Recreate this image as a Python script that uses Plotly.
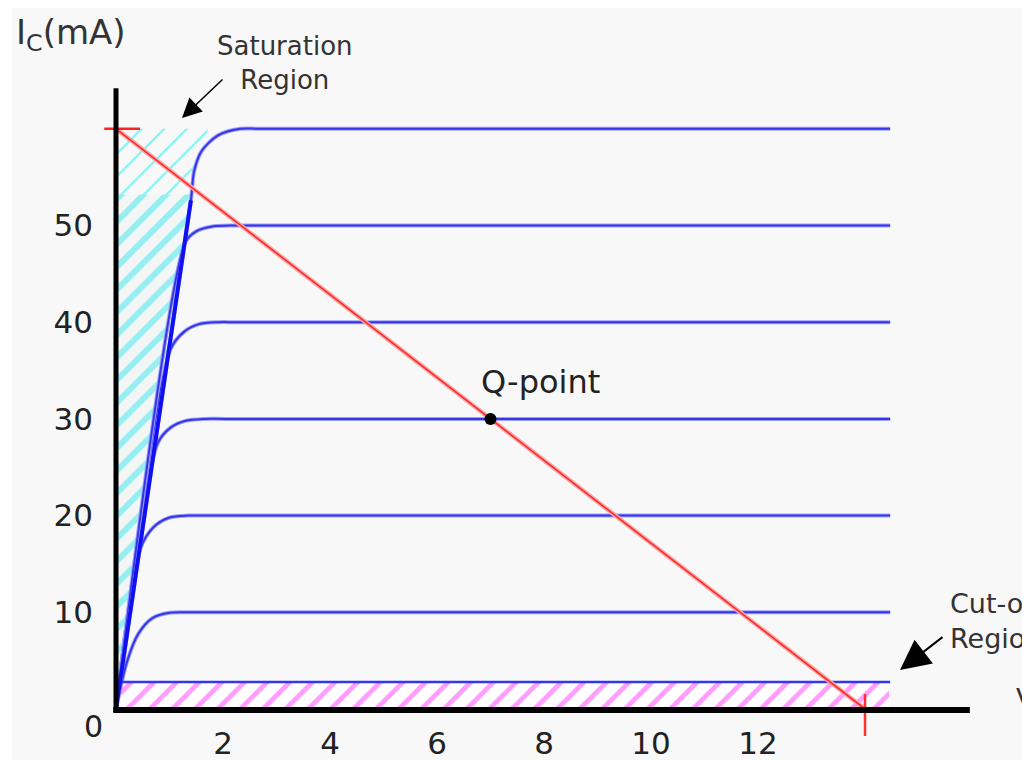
import plotly.graph_objects as go

# ---------------- data ----------------
x_ticks = [2, 4, 6, 8, 10, 12]
y_ticks = [10, 20, 30, 40, 50]

# characteristic curves (VCE in V, IC in mA)
vce_10 = [0, 0.2, 0.42, 0.68, 1.0, 1.4, 14.47]
ic_10 = [0, 4.8, 7.8, 9.4, 9.95, 10, 10]
vce_20 = [0, 0.45, 0.7, 1.0, 1.35, 1.75, 14.47]
ic_20 = [0, 16.5, 18.8, 19.8, 20, 20, 20]
vce_30 = [0, 0.78, 1.02, 1.3, 1.65, 2.05, 14.47]
ic_30 = [0, 27.5, 29.1, 29.8, 30, 30, 30]
vce_40 = [0, 1.02, 1.27, 1.55, 1.9, 2.3, 14.47]
ic_40 = [0, 37.2, 39.0, 39.8, 40, 40, 40]
vce_50 = [0, 1.3, 1.5, 1.8, 2.2, 2.6, 14.47]
ic_50 = [0, 48.3, 49.4, 49.9, 50, 50, 50]
vce_60 = [0, 1.4, 1.46, 1.6, 1.9, 2.32, 2.7, 14.47]
ic_60 = [0, 52.6, 55.6, 57.7, 59.3, 60, 60, 60]

# cut-off boundary
cutoff_v = [0, 14.47]
cutoff_i = [2.8, 2.8]

# saturation boundary (thick line)
sat_v = [0, 1.4]
sat_i = [0, 52.6]

# hatched regions
sat_low_v = [0, 0, 1.38, 0]
sat_low_i = [0, 53.2, 53.2, 0]
sat_up_v = [0, 0, 1.72, 1.33, 0]
sat_up_i = [53.2, 60, 60, 53.2, 53.2]
cut_v = [0, 14.45, 14.45, 0, 0]
cut_i = [0, 0, 2.8, 2.8, 0]

# load line and Q-point
load_v = [0, 14]
load_i = [60, 0]
q_v = [7]
q_i = [30]
top_tick_v = [-0.22, 0.45]
top_tick_i = [60, 60]
bot_tick_v = [14]
bot_tick_i = [-0.62]

# ---------------- layout geometry ----------------
# the page body adds an 8 px margin, so every reference pixel is shifted by OFF
OFF = 8
W, H = 1030, 760
PLOT_L, PLOT_R, PLOT_T, PLOT_B = 100, 1000, 80, 722   # plot box in reference pixels
ML = PLOT_L - OFF
MR = W - (PLOT_R - OFF)
MT = PLOT_T - OFF
MB = H - (PLOT_B - OFF)
PW, PH = W - ML - MR, H - MT - MB
X0_REF, Y0_REF = 116, 709   # reference pixel of VCE = 0 / IC = 0
SX, SY = 53.5, 9.67         # pixels per volt / per mA


def px(x):
    """reference-picture pixel -> paper fraction"""
    return (x - PLOT_L) / PW


def py(y):
    return (PLOT_B - y) / PH


FONT = "DejaVu Sans"
BLUE = "#3535ee"

fig = go.Figure()

# hatched regions
fig.add_trace(go.Scatter(x=cut_v, y=cut_i, mode="lines", fill="toself",
                         line=dict(width=0), fillcolor="rgba(0,0,0,0)",
                         fillpattern=dict(shape="/", fgcolor="#ff3cff", bgcolor="#ffffff",
                                          size=16, solidity=0.3),
                         hoverinfo="skip", showlegend=False))
fig.add_trace(go.Scatter(x=sat_low_v, y=sat_low_i, mode="lines", fill="toself",
                         line=dict(width=0), fillcolor="rgba(0,0,0,0)",
                         fillpattern=dict(shape="/", fgcolor="#35e6ec", bgcolor="#f4f6f6",
                                          size=16, solidity=0.38),
                         hoverinfo="skip", showlegend=False))
fig.add_trace(go.Scatter(x=sat_up_v, y=sat_up_i, mode="lines", fill="toself",
                         line=dict(width=0), fillcolor="rgba(0,0,0,0)",
                         fillpattern=dict(shape="/", fgcolor="#00f4f4", bgcolor="rgba(0,0,0,0)",
                                          size=16, solidity=0.14),
                         hoverinfo="skip", showlegend=False))

# characteristic curves
for vv, ii in [(vce_10, ic_10), (vce_20, ic_20), (vce_30, ic_30),
               (vce_40, ic_40), (vce_50, ic_50), (vce_60, ic_60)]:
    fig.add_trace(go.Scatter(x=vv, y=ii, mode="lines",
                             line=dict(color="#a0a0f6", width=4, shape="spline", smoothing=0.8),
                             hoverinfo="skip", showlegend=False))
    fig.add_trace(go.Scatter(x=vv, y=ii, mode="lines",
                             line=dict(color=BLUE, width=2, shape="spline", smoothing=0.8),
                             hoverinfo="skip", showlegend=False))

fig.add_trace(go.Scatter(x=cutoff_v, y=cutoff_i, mode="lines",
                         line=dict(color=BLUE, width=2.5),
                         hoverinfo="skip", showlegend=False))
fig.add_trace(go.Scatter(x=sat_v, y=sat_i, mode="lines",
                         line=dict(color="#1010f0", width=4),
                         hoverinfo="skip", showlegend=False))

# load line
fig.add_trace(go.Scatter(x=load_v, y=load_i, mode="lines",
                         line=dict(color="#f5a8a8", width=4.5),
                         hoverinfo="skip", showlegend=False))
fig.add_trace(go.Scatter(x=load_v, y=load_i, mode="lines",
                         line=dict(color="#ff2a2a", width=1.6),
                         hoverinfo="skip", showlegend=False))
fig.add_trace(go.Scatter(x=top_tick_v, y=top_tick_i, mode="lines",
                         line=dict(color="#ff2020", width=2.5),
                         hoverinfo="skip", showlegend=False))
fig.add_trace(go.Scatter(x=bot_tick_v, y=bot_tick_i, mode="markers", cliponaxis=False,
                         marker=dict(symbol="line-ns", size=30,
                                     line=dict(color="#ff3030", width=2.5)),
                         hoverinfo="skip", showlegend=False))

# axes lines (drawn as shapes at data zero)
fig.add_shape(type="line", x0=0, x1=0, y0=-0.3, y1=64.2,
              line=dict(color="black", width=5), layer="above")
fig.add_shape(type="line", x0=-0.05, x1=15.96, y0=-0.1, y1=-0.1,
              line=dict(color="black", width=6), layer="above")

# Q-point
fig.add_trace(go.Scatter(x=q_v, y=q_i, mode="markers",
                         marker=dict(color="black", size=12),
                         hoverinfo="skip", showlegend=False))

# texts
ann = []
ann.append(dict(x=px(479), y=py(382), xref="paper", yref="paper", text="Q-point",
                showarrow=False, xanchor="left", yanchor="middle",
                font=dict(family=FONT, size=32, color="#222")))
ann.append(dict(x=px(14), y=py(34), xref="paper", yref="paper",
                text="I<sub>C</sub>(mA)", showarrow=False, xanchor="left", yanchor="middle",
                font=dict(family=FONT, size=34, color="#333")))
ann.append(dict(x=px(285), y=py(63), xref="paper", yref="paper",
                text="Saturation<br>Region", showarrow=False, xanchor="center", yanchor="middle",
                align="center", font=dict(family=FONT, size=26, color="#333")))
ann.append(dict(x=px(948), y=py(621), xref="paper", yref="paper",
                text="Cut-off<br>Region", showarrow=False, xanchor="left", yanchor="middle",
                align="left", font=dict(family=FONT, size=27, color="#333")))
ann.append(dict(x=px(1014), y=py(700), xref="paper", yref="paper",
                text="V<sub>CE</sub>", showarrow=False, xanchor="left", yanchor="middle",
                font=dict(family=FONT, size=27, color="#333")))
ann.append(dict(x=px(93), y=py(726), xref="paper", yref="paper",
                text="0", showarrow=False, xanchor="center", yanchor="middle",
                font=dict(family=FONT, size=30, color="#222")))
# arrows
ann.append(dict(x=px(182), y=py(118), xref="paper", yref="paper", text="",
                showarrow=True, ax=42, ay=-40, arrowhead=2, arrowsize=2.6,
                arrowwidth=1.5, arrowcolor="black"))
ann.append(dict(x=px(900), y=py(670), xref="paper", yref="paper", text="",
                showarrow=True, ax=44, ay=-34, arrowhead=2, arrowsize=3,
                arrowwidth=2, arrowcolor="black"))

# white left border of the original picture
fig.add_shape(type="rect", xref="paper", yref="paper", x0=px(OFF), x1=px(12),
              y0=py(H + OFF), y1=py(OFF), fillcolor="white", line=dict(width=0), layer="below")

fig.update_layout(
    width=W, height=H,
    margin=dict(l=ML, r=MR, t=MT, b=MB, autoexpand=False),
    paper_bgcolor="#f8f8f8", plot_bgcolor="rgba(0,0,0,0)",
    annotations=ann,
    showlegend=False,
    font=dict(family=FONT, color="#222"),
    xaxis=dict(range=[-(X0_REF - PLOT_L) / SX, (PLOT_R - X0_REF) / SX], tickvals=x_ticks,
               showgrid=False, zeroline=False, showline=False, ticks="", automargin=False,
               tickfont=dict(family=FONT, size=31, color="#222"), fixedrange=True),
    yaxis=dict(range=[-(PLOT_B - Y0_REF) / SY, (Y0_REF - PLOT_T) / SY], tickvals=y_ticks,
               showgrid=False, zeroline=False, showline=False, ticks="", automargin=False,
               ticklabelstandoff=6,
               tickfont=dict(family=FONT, size=31, color="#222"), fixedrange=True),
)

fig.write_html("out.html")
